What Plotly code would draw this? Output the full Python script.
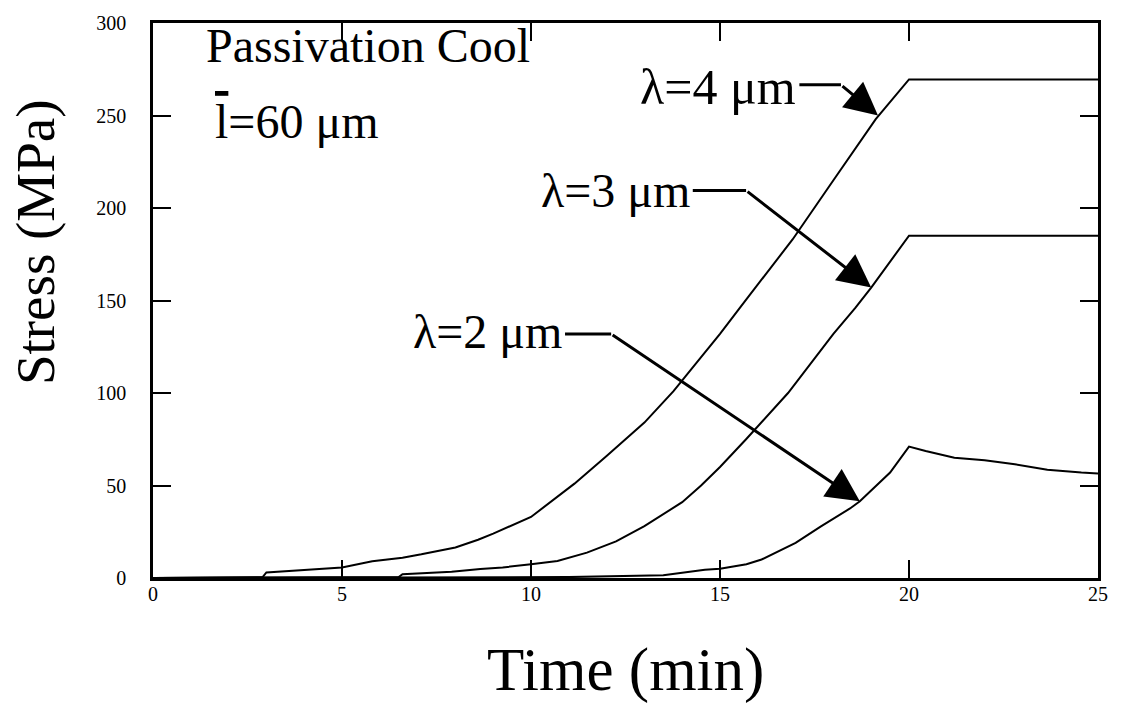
import plotly.graph_objects as go

# ---- data ----
lam4_t = [0, 2.9, 3.0, 4.0, 5.0, 5.8, 6.6, 7.1, 8.0, 8.6, 9.0, 10.0, 11.15, 12.0, 13.0, 13.77, 15.0, 15.56, 16.92, 18.0, 19.12, 20.0, 25.0]
lam4_y = [0, 0.5, 3.0, 4.2, 5.7, 9.0, 11.0, 12.8, 16.5, 20.7, 24.0, 33.0, 51.0, 66.0, 84.0, 101.0, 132.0, 147.0, 183.0, 215.0, 248.0, 269.5, 269.5]

lam3_t = [0, 6.5, 6.6, 7.9, 8.66, 9.25, 10.0, 10.7, 11.48, 12.25, 13.0, 14.0, 14.5, 15.0, 15.69, 16.8, 18.0, 18.58, 19.0, 20.0, 25.0]
lam3_y = [0, 0.5, 2.0, 3.4, 4.8, 5.7, 7.4, 9.2, 13.7, 19.8, 28.0, 41.0, 50.0, 60.0, 75.0, 100.0, 132.0, 146.0, 157.0, 185.0, 185.0]

lam2_t = [0, 11.0, 13.5, 14.0, 14.6, 15.0, 15.7, 16.1, 16.5, 17.0, 17.66, 18.44, 18.7, 19.1, 19.5, 20.0, 20.44, 21.2, 22.0, 22.8, 23.66, 24.56, 25.0]
lam2_y = [0, 0.5, 1.5, 3.0, 4.4, 5.0, 7.4, 10.0, 14.0, 19.0, 27.8, 37.6, 41.5, 49.0, 57.0, 71.0, 68.6, 65.0, 63.7, 61.5, 58.5, 57.0, 56.5]

series_names = ["λ=4 μm", "λ=3 μm", "λ=2 μm"]
x_ticks = [0, 5, 10, 15, 20, 25]
y_ticks = [0, 50, 100, 150, 200, 250, 300]

# label text anchor (right end), leader corner, arrow tip (data coords)
label_pos = [(17.10, 265.5), (14.28, 209.5), (10.90, 133.0)]
leader_y = [266.6, 209.5, 131.9]
corner_x = [18.2, 15.69, 12.12]
tips = [(19.18, 250.0), (19.0, 157.0), (18.7, 41.5)]

FONT = "Liberation Serif, Times New Roman, serif"

fig = go.Figure()
for t, y, n in [(lam4_t, lam4_y, series_names[0]), (lam3_t, lam3_y, series_names[1]), (lam2_t, lam2_y, series_names[2])]:
    fig.add_trace(go.Scatter(x=t, y=y, mode="lines", name=n,
                             line=dict(color="black", width=2), showlegend=False))

annotations = []
shapes = []
label_sizes = [50, 48, 48]
for i, name in enumerate(series_names):
    lx, ly = label_pos[i]
    annotations.append(dict(x=lx, y=ly, xref="x", yref="y", text=name, showarrow=False,
                            xanchor="right", yanchor="middle", xshift=-1,
                            font=dict(family=FONT, size=label_sizes[i], color="black")))
    shapes.append(dict(type="line", xref="x", yref="y", x0=lx, y0=leader_y[i],
                       x1=corner_x[i], y1=leader_y[i], line=dict(color="black", width=3)))
    annotations.append(dict(x=tips[i][0], y=tips[i][1], xref="x", yref="y",
                            ax=corner_x[i], ay=leader_y[i], axref="x", ayref="y",
                            text="", showarrow=True, arrowhead=2, arrowsize=2.2,
                            arrowwidth=3, arrowcolor="black", standoff=0, startstandoff=0))

annotations.append(dict(x=1.35, y=288.0, xref="x", yref="y", text="Passivation Cool",
                        showarrow=False, xanchor="left", yanchor="middle",
                        font=dict(family=FONT, size=48, color="black")))
annotations.append(dict(x=1.59, y=246.5, xref="x", yref="y",
                        text='<span style="text-decoration:overline">l</span>=60 μm',
                        showarrow=False, xanchor="left", yanchor="middle",
                        font=dict(family=FONT, size=48, color="black")))
annotations.append(dict(x=-0.125, y=0.605, xref="paper", yref="paper", text="Stress (MPa)",
                        showarrow=False, textangle=-90, xanchor="center", yanchor="middle",
                        font=dict(family=FONT, size=55, color="black")))
annotations.append(dict(x=0.5, y=-0.165, xref="paper", yref="paper", text="Time (min)",
                        showarrow=False, xanchor="center", yanchor="middle",
                        font=dict(family=FONT, size=61, color="black")))

axis_common = dict(showgrid=False, zeroline=False, showline=True, linecolor="black",
                   linewidth=2.5, mirror="ticks", ticks="inside", tickcolor="black",
                   tickwidth=2, ticklen=18, tickfont=dict(family=FONT, size=20, color="black"))

fig.update_layout(
    width=1138, height=709,
    margin=dict(l=153, r=40, t=16, b=131),
    paper_bgcolor="white", plot_bgcolor="white",
    xaxis=dict(range=[0, 25], tickvals=x_ticks, ticklabelstandoff=-4, **axis_common),
    yaxis=dict(range=[0, 300], tickvals=y_ticks, ticklabelstandoff=20, **axis_common),
    annotations=annotations, shapes=shapes,
)

fig.write_html("out.html")
